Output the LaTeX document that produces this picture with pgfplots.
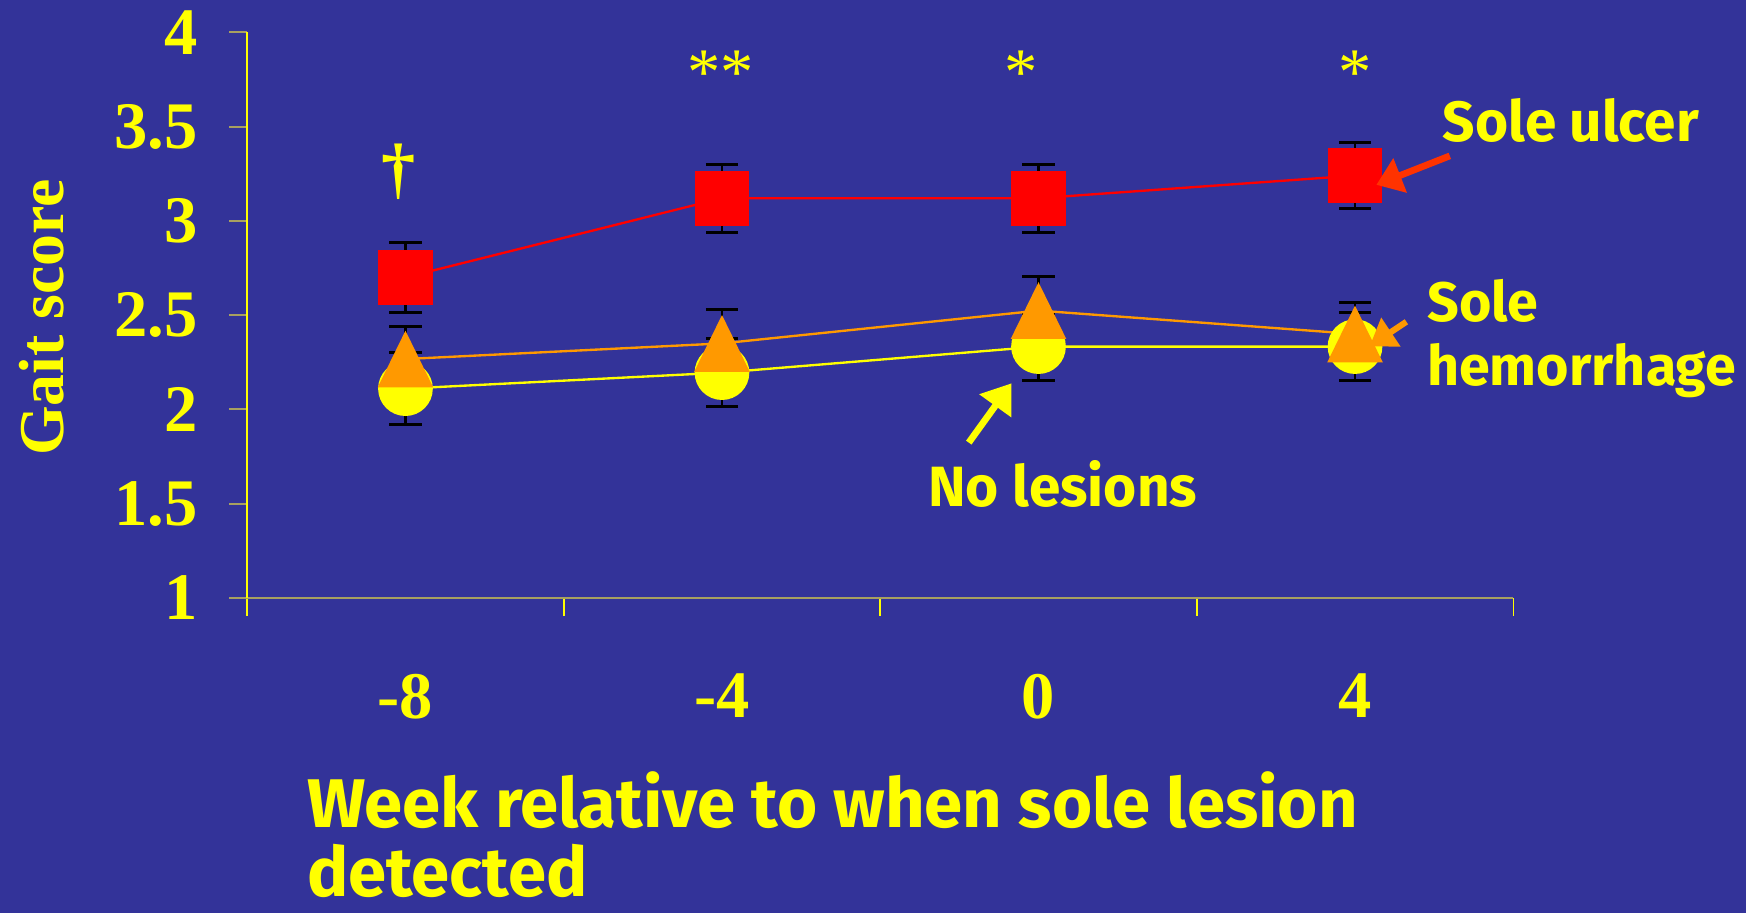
\documentclass[border=0pt]{standalone}
\usepackage{pgfplots}
\pgfplotsset{compat=1.18}
\usepackage{fontspec}
\setmainfont{Liberation Serif}
\newfontfamily\comic{Fira Sans}
\usetikzlibrary{arrows.meta}
\definecolor{bg}{HTML}{333399}
\definecolor{yel}{HTML}{FFFF00}
\definecolor{org}{HTML}{FF9900}
\definecolor{redc}{HTML}{FF0000}
\definecolor{arrred}{HTML}{FF3300}
\definecolor{olive}{HTML}{A8A060}
\pgfdeclareplotmark{tri}{%
  \pgfpathmoveto{\pgfqpoint{0pt}{7.25pt}}%
  \pgfpathlineto{\pgfqpoint{-7.1pt}{-7.25pt}}%
  \pgfpathlineto{\pgfqpoint{7.1pt}{-7.25pt}}%
  \pgfpathclose\pgfusepathqfill}
\pgfplotstableread{
x y e
0 2.110 0.190
1 2.195 0.180
2 2.333 0.178
3 2.333 0.180
}\nolesion
\pgfplotstableread{
x y e
0 2.267 0.175
1 2.350 0.180
2 2.524 0.182
3 2.400 0.165
}\hemorrhage
\pgfplotstableread{
x y e
0 2.700 0.186
1 3.120 0.180
2 3.120 0.180
3 3.240 0.177
}\ulcer
\pgfplotsset{myerr/.style={error bars/.cd, y dir=both, y explicit,
  error bar style={black, line width=0.65pt},
  error mark options={black, rotate=90, mark size=1.45mm, line width=0.75pt}}}
\begin{document}
\begin{tikzpicture}
\fill[bg] (0,0) rectangle (156.8mm,82mm);
\useasboundingbox (0,0) rectangle (156.8mm,82mm);
\begin{axis}[
  at={(22.2mm,28.3mm)}, anchor=south west,
  scale only axis, width=113.7mm, height=50.8mm,
  xmin=-0.5, xmax=3.5, ymin=1, ymax=4,
  axis x line=bottom, axis y line=left,
  x axis line style={-, draw=olive, line width=0.5pt},
  y axis line style={-, draw=yel, line width=0.5pt},
  xtick={-0.5,0.5,1.5,2.5,3.5}, xticklabels={},
  x tick style={draw=yel, line width=0.4pt},
  y tick style={draw=olive, line width=0.5pt},
  extra x ticks={0,1,2,3}, extra x tick labels={-8,-4,0,4},
  extra x tick style={major tick length=0pt, tick label style={yshift=-5.6mm}},
  ytick={1,1.5,2,2.5,3,3.5,4}, yticklabels={1,1.5,2,2.5,3,3.5,4},
  tick align=outside, major tick length=1.6mm,
  tick label style={font=\fontsize{17}{17}\selectfont\bfseries, text=yel},
  yticklabel style={xshift=-1.6mm},
  ylabel={Gait score},
  ylabel style={at={(axis description cs:-0.162,0.496)}, rotate=0, anchor=center,
    font=\fontsize{16.3}{16}\selectfont\bfseries, text=yel},
  clip=false,
]
\addplot[yel, line width=0.6pt, mark=*, mark size=2.35mm, mark options={fill=yel, draw=yel}, myerr]
  table[x=x, y=y, y error=e]{\nolesion};
\addplot[org, line width=0.6pt, mark=tri, mark options={fill=org, draw=org}, myerr]
  table[x=x, y=y, y error=e]{\hemorrhage};
\addplot[redc, line width=0.6pt, mark=square*, mark size=2.36mm, mark options={fill=redc, draw=redc}, myerr]
  table[x=x, y=y, y error=e]{\ulcer};
\end{axis}
% significance marks
\node[text=yel, font=\fontsize{17.5}{16}\selectfont\bfseries] at (35.8mm,66.6mm) {†};
\node[text=yel, font=\fontsize{17}{17}\selectfont, inner sep=0pt] at (64.7mm,75.5mm) {**};
\node[text=yel, font=\fontsize{17}{17}\selectfont, inner sep=0pt] at (91.7mm,75.5mm) {*};
\node[text=yel, font=\fontsize{17}{17}\selectfont, inner sep=0pt] at (121.7mm,75.5mm) {*};
% annotations
\node[text=yel, font=\comic\bfseries\fontsize{14.5}{16}\selectfont, anchor=base west, inner sep=0pt] at (129.5mm,69.3mm) {Sole ulcer};
\node[text=yel, font=\comic\bfseries\fontsize{14.2}{16.2}\selectfont, anchor=base west, inner sep=0pt, align=left] at (128.1mm,47.4mm) {Sole\\hemorrhage};
\node[text=yel, font=\comic\bfseries\fontsize{14.5}{16}\selectfont, anchor=base west, inner sep=0pt] at (83.3mm,36.5mm) {No lesions};
\node[text=yel, font=\comic\bfseries\fontsize{17.6}{17.6}\selectfont, anchor=base west, inner sep=0pt, align=left] at (27.5mm,1.5mm) {Week relative to when sole lesion\\detected};
% arrows
\draw[arrred, line width=0.6mm, -{Triangle[length=2.3mm,width=3.2mm]}] (130.2mm,68.0mm) -- (123.6mm,65.4mm);
\draw[org, line width=0.55mm, -{Triangle[length=2.3mm,width=3.0mm]}] (126.3mm,53.1mm) -- (123.0mm,50.9mm);
\draw[yel, line width=0.6mm, -{Triangle[length=2.5mm,width=3.4mm]}] (87.0mm,42.25mm) -- (90.84mm,47.58mm);
\end{tikzpicture}
\end{document}
